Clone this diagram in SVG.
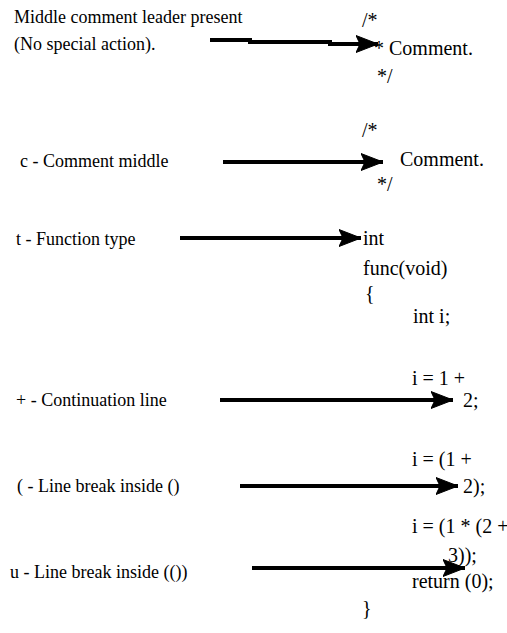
<svg xmlns="http://www.w3.org/2000/svg" width="507" height="633" viewBox="0 0 507 633">
<defs>
<marker id="ah" markerUnits="userSpaceOnUse" markerWidth="24" markerHeight="18" refX="22" refY="9" orient="auto" viewBox="0 0 24 18">
<path d="M0,0.5 L22,9 L0,17.5 L4,9 z" fill="#000" stroke="#000" stroke-width="1" stroke-linejoin="round"/>
</marker>
<style>
.lbl{font-family:"Liberation Serif","Times New Roman",serif;font-size:18px;fill:#000}
.code{font-family:"Liberation Serif","Times New Roman",serif;font-size:20px;fill:#000}
.ln{fill:none;stroke:#000;stroke-width:4;marker-end:url(#ah)}
</style>
</defs>
<rect width="507" height="633" fill="#fff"/>
<g id="labels">
<g id="label-middle"><text class="lbl" x="14" y="23">Middle comment leader present</text><text class="lbl" x="14" y="50">(No special action).</text></g>
<g id="label-c"><text class="lbl" x="20" y="167">c - Comment middle</text></g>
<g id="label-t"><text class="lbl" x="16" y="245">t - Function type</text></g>
<g id="label-plus"><text class="lbl" x="16" y="406">+ - Continuation line</text></g>
<g id="label-paren"><text class="lbl" x="17" y="492">( - Line break inside ()</text></g>
<g id="label-u"><text class="lbl" x="10" y="578">u - Line break inside (())</text></g>
</g>
<g id="code">
<g id="code-comment1"><text class="code" x="362" y="27">/*</text><text class="code" x="374" y="55">* Comment.</text><text class="code" x="377" y="83">*/</text></g>
<g id="code-comment2"><text class="code" x="362" y="137">/*</text><text class="code" x="400" y="166">Comment.</text><text class="code" x="377" y="191">*/</text></g>
<g id="code-func"><text class="code" x="363" y="245">int</text><text class="code" x="363" y="275">func(void)</text><text class="code" x="365" y="300">{</text><text class="code" x="413" y="323">int i;</text></g>
<g id="code-plus"><text class="code" x="412" y="385">i = 1 +</text><text class="code" x="463" y="407">2;</text></g>
<g id="code-paren"><text class="code" x="412" y="466">i = (1 +</text><text class="code" x="463" y="493">2);</text></g>
<g id="code-u"><text class="code" x="412" y="533">i = (1 * (2 +</text><text class="code" x="448" y="562">3));</text><text class="code" x="412" y="588">return (0);</text><text class="code" x="362" y="615">}</text></g>
</g>
<g id="connectors">
<polyline class="ln" points="210,40 250,40 250,42 330,42 330,44 378,44"/>
<line class="ln" x1="223" y1="162" x2="383" y2="162"/>
<line class="ln" x1="180" y1="238" x2="361" y2="238"/>
<line class="ln" x1="220" y1="400" x2="453" y2="400"/>
<line class="ln" x1="240" y1="486" x2="458" y2="486"/>
<line class="ln" x1="252" y1="568" x2="465" y2="568"/>
</g>
</svg>
